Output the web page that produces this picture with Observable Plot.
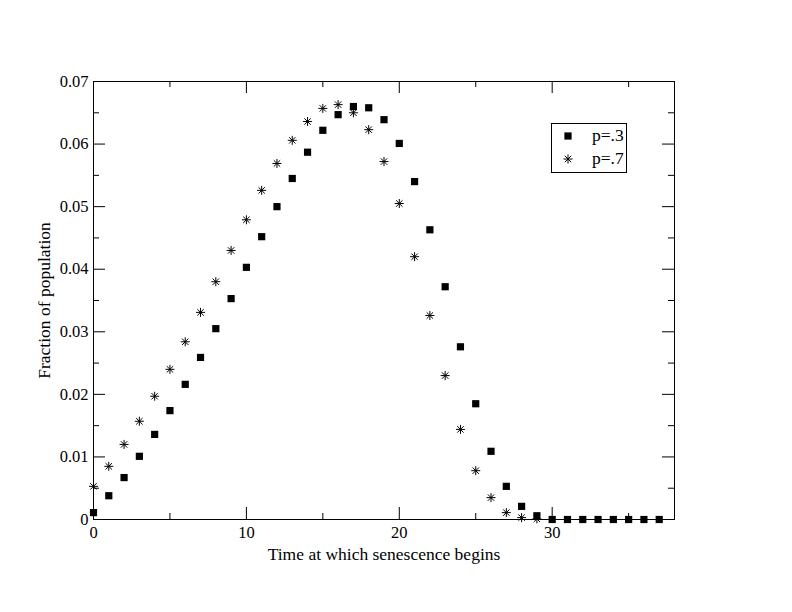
<!DOCTYPE html>
<html>
<head>
<meta charset="utf-8">
<script src="https://cdn.jsdelivr.net/npm/d3@7"></script>
<script src="https://cdn.jsdelivr.net/npm/@observablehq/plot@0.6"></script>
<style>
  html, body { margin: 0; padding: 0; background: #fff; }
  #wrap { position: relative; width: 792px; height: 612px; font-family: "Liberation Serif", "Times New Roman", serif; }
  #legend { position: absolute; left: 551px; top: 123px; width: 76px; height: 50px; border: 1px solid #000; box-sizing: border-box; background: #fff; font-size: 17.5px; line-height: 1; }
  .row { position: absolute; left: 0; display: flex; align-items: center; }
  .row svg { margin-left: 11px; }
  .row span { margin-left: 19px; }
</style>
</head>
<body>
<div id="wrap"></div>
<script>
// Time at which senescence begins
const times = d3.range(0, 38);
// p = .3 (filled squares)
const p3 = [0.0011,0.0038,0.0067,0.0101,0.0136,0.0174,0.0216,0.0259,0.0305,0.0353,
            0.0403,0.0452,0.0500,0.0545,0.0587,0.0622,0.0647,0.0660,0.0658,0.0639,
            0.0601,0.0540,0.0463,0.0372,0.0276,0.0185,0.0109,0.0053,0.0021,0.0006,
            0,0,0,0,0,0,0,0];
// p = .7 (asterisks)
const p7 = [0.0053,0.0085,0.0120,0.0157,0.0197,0.0240,0.0284,0.0331,0.0380,0.0430,
            0.0479,0.0526,0.0569,0.0606,0.0636,0.0657,0.0663,0.0650,0.0623,0.0572,
            0.0505,0.0420,0.0326,0.0230,0.0144,0.0078,0.0035,0.0011,0.0003,0.0001];
const seriesNames = ["p=.3", "p=.7"];
const xMajor = [0, 10, 20, 30];
const xMinor = [5, 15, 25, 35];
const yMajor = [0, 0.01, 0.02, 0.03, 0.04, 0.05, 0.06, 0.07];
const yMinor = [0.005, 0.015, 0.025, 0.035, 0.045, 0.055, 0.065];
const yTickLabels = ["0", "0.01", "0.02", "0.03", "0.04", "0.05", "0.06", "0.07"];
const xLabel = "Time at which senescence begins";
const yLabel = "Fraction of population";

const dataP3 = p3.map((v, i) => ({t: times[i], v}));
const dataP7 = p7.map((v, i) => ({t: times[i], v}));

const W = 792, H = 612, mL = 93, mR = 118, mT = 81, mB = 93;
const innerW = W - mL - mR, innerH = H - mT - mB;
const major = 12, minor = 6;

const squareSym = { draw(ctx) { const s = 3.6; ctx.rect(-s, -s, 2 * s, 2 * s); } };
const starSym = { draw(ctx) {
  const a = 4.5, d = 3.2;
  ctx.moveTo(-a, 0); ctx.lineTo(a, 0);
  ctx.moveTo(0, -a); ctx.lineTo(0, a);
  ctx.moveTo(-d, -d); ctx.lineTo(d, d);
  ctx.moveTo(-d, d); ctx.lineTo(d, -d);
} };

const chart = Plot.plot({
  width: W, height: H,
  marginLeft: mL, marginRight: mR, marginTop: mT, marginBottom: mB,
  style: { fontFamily: '"Liberation Serif", "Times New Roman", serif', fontSize: "16.5px", color: "#000", background: "#fff" },
  x: { domain: [0, 38] },
  y: { domain: [0, 0.07] },
  marks: [
    Plot.frame({ stroke: "#000", strokeWidth: 1 }),
    // inward ticks, bottom/top
    Plot.tickX(xMajor, { x: d => d, insetTop: innerH - major, stroke: "#000" }),
    Plot.tickX(xMinor, { x: d => d, insetTop: innerH - minor, stroke: "#000" }),
    Plot.tickX(xMajor, { x: d => d, insetBottom: innerH - major, stroke: "#000" }),
    Plot.tickX(xMinor, { x: d => d, insetBottom: innerH - minor, stroke: "#000" }),
    // inward ticks, left/right
    Plot.tickY(yMajor, { y: d => d, insetRight: innerW - major, stroke: "#000" }),
    Plot.tickY(yMinor, { y: d => d, insetRight: innerW - minor, stroke: "#000" }),
    Plot.tickY(yMajor, { y: d => d, insetLeft: innerW - major, stroke: "#000" }),
    Plot.tickY(yMinor, { y: d => d, insetLeft: innerW - minor, stroke: "#000" }),
    // tick labels
    Plot.axisX({ ticks: xMajor, tickSize: 0, tickPadding: 7, tickFormat: d => String(d), fontSize: 16.5, label: null }),
    Plot.axisY({ ticks: yMajor, tickSize: 0, tickPadding: 5, tickFormat: d => yTickLabels[yMajor.indexOf(d)], fontSize: 16.5, label: null }),
    // axis titles
    Plot.axisX({ ticks: [], tickSize: 0, fontSize: 17.5, label: xLabel, labelAnchor: "center", labelArrow: "none", labelOffset: 40 }),
    Plot.axisY({ ticks: [], tickSize: 0, fontSize: 17.5, label: yLabel, labelAnchor: "center", labelArrow: "none", labelOffset: 56 }),
    Plot.dot(dataP7, { x: "t", y: "v", symbol: starSym, stroke: "#000", strokeWidth: 1, fill: "none" }),
    Plot.dot(dataP3, { x: "t", y: "v", symbol: squareSym, fill: "#000", stroke: "none" })
  ]
});

const wrap = document.getElementById("wrap");
wrap.appendChild(chart);

const legend = document.createElement("div");
legend.id = "legend";
const sq = '<svg width="10" height="10" viewBox="-5 -5 10 10"><rect x="-3.6" y="-3.6" width="7.2" height="7.2" fill="#000"/></svg>';
const st = '<svg width="10" height="10" viewBox="-5 -5 10 10"><path d="M-4.5,0L4.5,0M0,-4.5L0,4.5M-3.2,-3.2L3.2,3.2M-3.2,3.2L3.2,-3.2" stroke="#000" stroke-width="1" fill="none"/></svg>';
legend.innerHTML =
  `<div class="row" style="top:3px">${sq}<span>${seriesNames[0]}</span></div>` +
  `<div class="row" style="top:26px">${st}<span>${seriesNames[1]}</span></div>`;
wrap.appendChild(legend);
</script>
</body>
</html>
